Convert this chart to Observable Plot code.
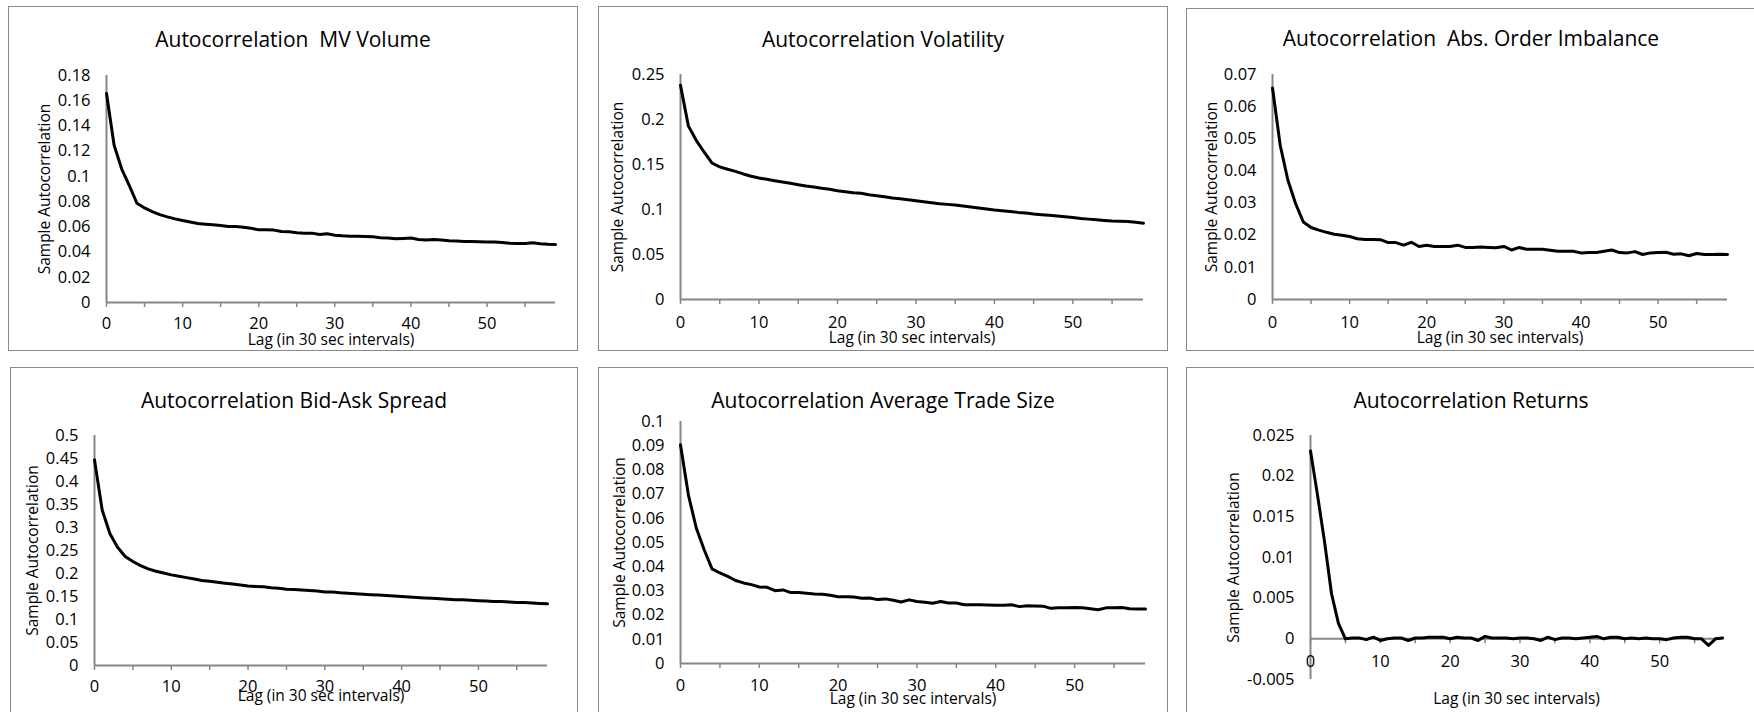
<!DOCTYPE html>
<html><head><meta charset="utf-8">
<script src="https://cdn.jsdelivr.net/npm/d3@7"></script>
<script src="https://cdn.jsdelivr.net/npm/@observablehq/plot@0.6"></script>
<style>
html,body{margin:0;padding:0;background:#fff;width:1754px;height:712px;overflow:hidden;position:relative;}
.panel{position:absolute;border:1.5px solid #8a8a8a;box-sizing:border-box;background:#fff;}
.title{position:absolute;left:0;right:0;text-align:center;font-family:"Open Sans";font-size:21px;line-height:26px;white-space:pre;color:#000;}
.plot{position:absolute;overflow:visible;}
</style></head><body>
<script>
// ---- data ----
const lags = [0,1,2,3,4,5,6,7,8,9,10,11,12,13,14,15,16,17,18,19,20,21,22,23,24,25,26,27,28,29,30,31,32,33,34,35,36,37,38,39,40,41,42,43,44,45,46,47,48,49,50,51,52,53,54,55,56,57,58,59];

const mvVolume = [0.1658,0.1247,0.1058,0.0926,0.0787,0.0750,0.0721,0.0697,0.0679,0.0663,
  0.0650,0.0639,0.0626,0.0621,0.0616,0.0611,0.0603,0.0603,0.0597,0.0589,
  0.0576,0.0576,0.0574,0.0563,0.0561,0.0553,0.0550,0.0550,0.0539,0.0545,
  0.0534,0.0529,0.0526,0.0526,0.0524,0.0521,0.0513,0.0511,0.0505,0.0508,
  0.0511,0.0500,0.0495,0.0500,0.0495,0.0489,0.0487,0.0484,0.0484,0.0482,
  0.0479,0.0479,0.0476,0.0470,0.0468,0.0468,0.0474,0.0466,0.0461,0.0459];

const volatility = [0.2381,0.1929,0.1769,0.1639,0.1517,0.1473,0.1447,0.1424,0.1395,0.1369,
  0.1350,0.1335,0.1320,0.1306,0.1291,0.1276,0.1261,0.1250,0.1235,0.1224,
  0.1209,0.1198,0.1187,0.1180,0.1165,0.1154,0.1142,0.1128,0.1120,0.1109,
  0.1098,0.1087,0.1076,0.1065,0.1057,0.1050,0.1039,0.1028,0.1016,0.1005,
  0.0994,0.0987,0.0979,0.0968,0.0961,0.0950,0.0942,0.0935,0.0927,0.0920,
  0.0912,0.0901,0.0893,0.0886,0.0879,0.0873,0.0869,0.0866,0.0858,0.0848];

const absOrderImbalance = [0.0658,0.0480,0.0371,0.0298,0.0241,0.0224,0.0216,0.0209,0.0203,0.0200,
  0.0196,0.0189,0.0187,0.0187,0.0186,0.0177,0.0177,0.0169,0.0178,0.0165,
  0.0169,0.0165,0.0165,0.0165,0.0169,0.0162,0.0162,0.0163,0.0162,0.0161,
  0.0165,0.0154,0.0162,0.0156,0.0156,0.0156,0.0153,0.0150,0.0150,0.0150,
  0.0145,0.0146,0.0146,0.0150,0.0154,0.0146,0.0145,0.0149,0.0140,0.0145,
  0.0146,0.0147,0.0141,0.0142,0.0136,0.0143,0.0140,0.0140,0.0141,0.0140];

const bidAskSpread = [0.447,0.338,0.287,0.257,0.237,0.226,0.217,0.210,0.205,0.201,
  0.197,0.194,0.191,0.188,0.185,0.183,0.181,0.179,0.177,0.175,
  0.173,0.172,0.171,0.169,0.168,0.166,0.165,0.164,0.163,0.162,
  0.160,0.160,0.158,0.157,0.156,0.155,0.154,0.153,0.152,0.151,
  0.150,0.149,0.148,0.147,0.146,0.145,0.144,0.143,0.143,0.142,
  0.141,0.140,0.139,0.139,0.138,0.137,0.137,0.136,0.135,0.134];

const avgTradeSize = [0.0904,0.0697,0.0560,0.0470,0.0391,0.0374,0.0360,0.0343,0.0333,0.0326,
  0.0316,0.0315,0.0301,0.0304,0.0293,0.0293,0.0290,0.0287,0.0286,0.0282,
  0.0276,0.0276,0.0275,0.0270,0.0271,0.0264,0.0267,0.0261,0.0254,0.0263,
  0.0256,0.0253,0.0249,0.0256,0.0250,0.0250,0.0243,0.0243,0.0243,0.0242,
  0.0241,0.0241,0.0243,0.0235,0.0239,0.0238,0.0237,0.0228,0.0230,0.0230,
  0.0231,0.0230,0.0226,0.0222,0.0230,0.0230,0.0231,0.0226,0.0225,0.0225];

const returns = [0.0231,0.0177,0.0120,0.0056,0.0019,0.0000,0.0001,0.0001,-0.0001,0.0002,
  -0.0002,0.0000,0.0001,0.0001,-0.0002,0.0001,0.0001,0.0002,0.0002,0.0002,
  0.0000,0.0002,0.0001,0.0001,-0.0002,0.0003,0.0001,0.0001,0.0001,0.0000,
  0.0001,0.0001,0.0000,-0.0002,0.0002,-0.0001,0.0001,0.0001,0.0000,0.0001,
  0.0002,0.0003,0.0000,0.0002,0.0002,0.0000,0.0001,0.0000,0.0001,0.0000,
  0.0000,-0.0001,0.0001,0.0002,0.0002,0.0000,0.0000,-0.0008,0.0000,0.0001];

const titles = ["Autocorrelation  MV Volume","Autocorrelation Volatility","Autocorrelation  Abs. Order Imbalance",
  "Autocorrelation Bid-Ask Spread","Autocorrelation Average Trade Size","Autocorrelation Returns"];
const yTicksMV = [0,0.02,0.04,0.06,0.08,0.1,0.12,0.14,0.16,0.18];
const yTicksVol = [0,0.05,0.1,0.15,0.2,0.25];
const yTicksImb = [0,0.01,0.02,0.03,0.04,0.05,0.06,0.07];
const yTicksSpread = [0,0.05,0.1,0.15,0.2,0.25,0.3,0.35,0.4,0.45,0.5];
const yTicksTrade = [0,0.01,0.02,0.03,0.04,0.05,0.06,0.07,0.08,0.09,0.1];
const yTicksRet = [-0.005,0,0.005,0.01,0.015,0.02,0.025];
const xTickMarks = [0,5,10,15,20,25,30,35,40,45,50,55];
const xTickLabels = [0,10,20,30,40,50];
const yLabel = "Sample Autocorrelation";
const xLabel = "Lag (in 30 sec intervals)";

// ---- layout (page pixel geometry) ----
const series = [mvVolume, volatility, absOrderImbalance, bidAskSpread, avgTradeSize, returns];
const yTicks = [yTicksMV, yTicksVol, yTicksImb, yTicksSpread, yTicksTrade, yTicksRet];
const layout = [
  {box:[8,6,578,351],    x0:106,  x59:555,  yTop:75,  yBot:302, labelX:45,   lagDy:38, tickDy:21, titleY:38},
  {box:[598,6,1168,351], x0:680,  x59:1143, yTop:74,  yBot:299, labelX:618,  lagDy:39, tickDy:23, titleY:38},
  {box:[1186,8,1756,351],x0:1272, x59:1727, yTop:74,  yBot:299, labelX:1212, lagDy:39, tickDy:23, titleY:37},
  {box:[10,367,578,720], x0:94,   x59:547,  yTop:435, yBot:665, labelX:33,   lagDy:31, tickDy:21, titleY:399},
  {box:[598,367,1168,720],x0:680, x59:1145, yTop:421, yBot:663, labelX:620,  lagDy:36, tickDy:22, titleY:399},
  {box:[1186,367,1756,720],x0:1310,x59:1722,yTop:435, yBot:679, labelX:1234, lagDy:20, tickDy:23, titleY:399}
];
const axisGray = "#868686";

layout.forEach((L, k) => {
  const [bl, bt, br, bb] = L.box;
  const panel = document.createElement("div");
  panel.className = "panel";
  Object.assign(panel.style, {left: bl+"px", top: bt+"px", width: (br-bl)+"px", height: (bb-bt)+"px"});
  document.body.appendChild(panel);

  const t = document.createElement("div");
  t.className = "title";
  t.textContent = titles[k];
  t.style.top = (L.titleY - bt - 13) + "px";
  panel.appendChild(t);

  const data = lags.map((lag, i) => ({lag, value: series[k][i]}));
  const ticks = yTicks[k];
  const yMin = Math.min(...ticks), yMax = Math.max(...ticks);

  const chart = Plot.plot({
    width: br - bl,
    height: bb - bt,
    marginLeft: L.x0 - bl,
    marginRight: br - L.x59,
    marginTop: L.yTop - bt,
    marginBottom: bb - L.yBot,
    x: {domain: [0, 59], axis: null},
    y: {domain: [yMin, yMax]},
    style: {fontFamily: "Open Sans", fontSize: "16.5px", color: "#000", background: "transparent", overflow: "visible"},
    marks: [
      Plot.axisY({ticks, tickSize: 0, tickPadding: 16, tickFormat: d => String(d), fill: "#000", label: null}),
      Plot.ruleX([0], {stroke: axisGray, strokeWidth: 2}),
      Plot.ruleY([0], {stroke: axisGray, strokeWidth: 2}),
      Plot.ruleX(xTickMarks, {x: d => d, y1: () => 0, y2: () => 0, insetBottom: -5, stroke: axisGray, strokeWidth: 1.5}),
      Plot.text(xTickLabels, {x: d => d, y: () => 0, dy: L.tickDy, text: d => String(d), fill: "#000", fontSize: 16.5}),
      Plot.text([yLabel], {frameAnchor: "left", dx: L.labelX - L.x0, rotate: -90, textAnchor: "middle", lineAnchor: "middle", text: d => d, fill: "#000", fontSize: 15.5}),
      Plot.text([xLabel], {frameAnchor: "bottom", dy: L.lagDy, textAnchor: "middle", lineAnchor: "middle", text: d => d, fill: "#000", fontSize: 15.5}),
      Plot.line(data, {x: "lag", y: "value", stroke: "#000", strokeWidth: 3, strokeLinejoin: "round"})
    ]
  });
  chart.classList.add("plot");
  chart.style.left = bl + "px";
  chart.style.top = bt + "px";
  document.body.appendChild(chart);
});
</script>
</body></html>
